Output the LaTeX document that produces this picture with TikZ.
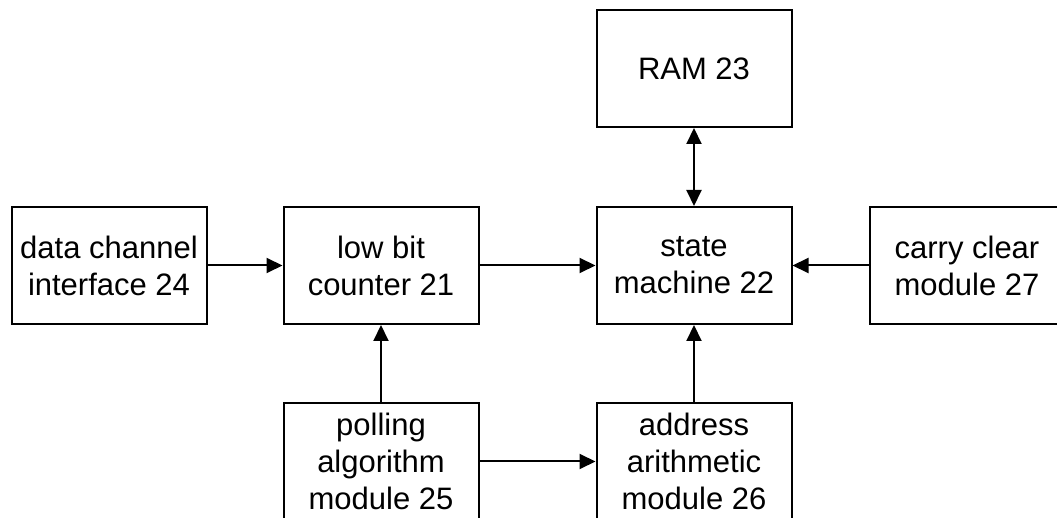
\documentclass[tikz,border=0pt]{standalone}
\usepackage{fontspec}
\setmainfont{Liberation Sans}
\usetikzlibrary{arrows.meta,positioning}

\begin{document}
\begin{tikzpicture}[every node/.style={font=\fontsize{15.5}{18.5}\selectfont}, box/.style={draw,line width=1pt,minimum width=97.5pt,minimum height=58.5pt,align=center,inner sep=2pt}, arr/.style={-{Triangle[length=8pt,width=7.5pt]},line width=1pt}, dblarr/.style={{Triangle[length=8pt,width=7.5pt]}-{Triangle[length=8pt,width=7.5pt]},line width=1pt}]
\useasboundingbox (0,0) rectangle (528.5pt,-259pt);
\clip (0,0) rectangle (528.5pt,-259pt);
\node[box] (dci) at (54.5pt,-132.75pt) {data channel\\ interface 24};
\node[box,right=37.5pt of dci] (lbc) {low bit\\ counter 21};
\node[box,right=58pt of lbc] (sm) {state\\ machine 22};
\node[box,right=38pt of sm] (ccm) {carry clear\\ module 27};
\node[box,above=39pt of sm] (ram) {RAM 23};
\node[box,below=38.5pt of lbc] (pam) {polling\\ algorithm\\ module 25};
\node[box,below=38.5pt of sm] (aam) {address\\ arithmetic\\ module 26};
\draw[arr] (dci)--(lbc);\draw[arr] (lbc)--(sm);\draw[arr] (ccm)--(sm);
\draw[arr] (pam)--(lbc);\draw[arr] (aam)--(sm);\draw[arr] (pam)--(aam);
\draw[dblarr] (ram)--(sm);
\end{tikzpicture}
\end{document}
